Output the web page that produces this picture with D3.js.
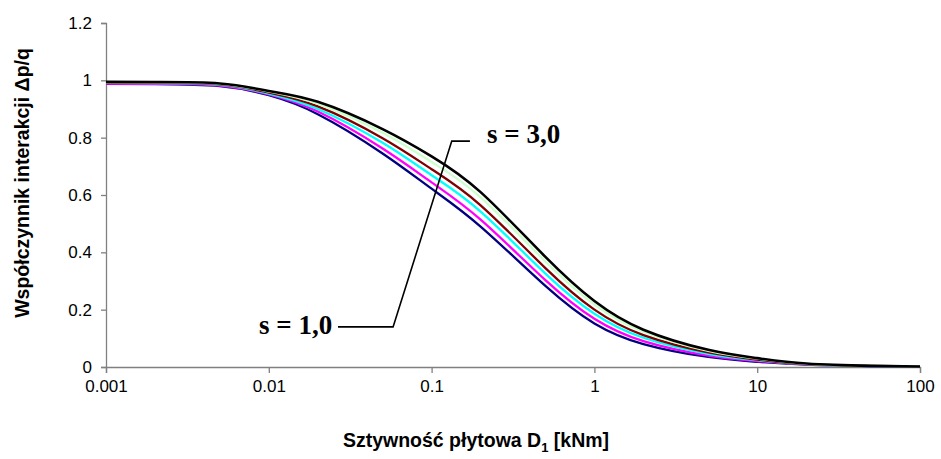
<!DOCTYPE html>
<html>
<head>
<meta charset="utf-8">
<script src="https://cdn.jsdelivr.net/npm/d3@7"></script>
<style>
  body { margin: 0; background: #fff; }
  svg { display: block; }
  .tick text { font-family: "Liberation Sans", Arial, sans-serif; font-size: 17px; fill: #000; }
  .axis-title { font-family: "Liberation Sans", Arial, sans-serif; font-size: 19.5px; font-weight: bold; }
  .note { font-family: "Liberation Serif", "Times New Roman", serif; font-size: 27px; font-weight: bold; }
</style>
</head>
<body>
<div id="chart"></div>
<script>
// plate stiffness D1 [kNm]
var stiffness = [0.001, 0.002, 0.005, 0.01, 0.02, 0.05, 0.1, 0.2, 0.5, 1, 2, 5, 10, 20, 50, 100];

// interaction coefficient dp/q, one array per spacing s
var s10 = [0.988, 0.987, 0.980, 0.948, 0.882, 0.745, 0.622, 0.490, 0.283, 0.152, 0.080, 0.035, 0.018, 0.008, 0.003, 0.001];
var s14 = [0.989, 0.988, 0.982, 0.951, 0.891, 0.762, 0.644, 0.514, 0.303, 0.168, 0.090, 0.040, 0.021, 0.009, 0.003, 0.001];
var s18 = [0.991, 0.990, 0.984, 0.954, 0.900, 0.782, 0.669, 0.542, 0.326, 0.186, 0.102, 0.046, 0.024, 0.010, 0.003, 0.001];
var s22 = [0.992, 0.991, 0.986, 0.957, 0.909, 0.798, 0.690, 0.564, 0.345, 0.200, 0.111, 0.051, 0.026, 0.010, 0.004, 0.002];
var s26 = [0.994, 0.993, 0.988, 0.961, 0.918, 0.817, 0.715, 0.592, 0.368, 0.218, 0.123, 0.056, 0.029, 0.011, 0.004, 0.002];
var s30 = [0.995, 0.994, 0.989, 0.963, 0.925, 0.830, 0.735, 0.610, 0.384, 0.230, 0.130, 0.060, 0.031, 0.012, 0.004, 0.002];

var xTicks = [0.001, 0.01, 0.1, 1, 10, 100];
var xTickLabels = ['0.001', '0.01', '0.1', '1', '10', '100'];
var yTicks = [0, 0.2, 0.4, 0.6, 0.8, 1, 1.2];
var yTickLabels = ['0', '0.2', '0.4', '0.6', '0.8', '1', '1.2'];

var series = [
    {name: 's = 1,0', values: s10, colour: '#000080'},
    {name: 's = 1,4', values: s14, colour: '#ff00ff'},
    {name: 's = 1,8', values: s18, colour: '#00ffff'},
    {name: 's = 2,2', values: s22, colour: '#800000'},
    {name: 's = 2,6', values: s26, colour: '#ccffcc'},
    {name: 's = 3,0', values: s30, colour: '#000000'}
];

var width = 941, height = 459;
var margin = {top: 23, right: 21, bottom: 92, left: 106};

var svg = d3.select('#chart')
    .append('svg')
    .attr('width', width)
    .attr('height', height);

var x = d3.scaleLog()
    .domain([0.001, 100])
    .range([margin.left, width - margin.right]);

var y = d3.scaleLinear()
    .domain([0, 1.2])
    .range([height - margin.bottom, margin.top]);

// axes
var xAxis = d3.axisBottom(x)
    .tickValues(xTicks)
    .tickSize(6)
    .tickPadding(7)
    .tickFormat(function(d, i) { return xTickLabels[i]; });

var yAxis = d3.axisLeft(y)
    .tickValues(yTicks)
    .tickSize(5)
    .tickPadding(9)
    .tickFormat(function(d, i) { return yTickLabels[i]; });

var gx = svg.append('g')
    .attr('transform', 'translate(0,' + y(0) + ')')
    .call(xAxis);

var gy = svg.append('g')
    .attr('transform', 'translate(' + x(0.001) + ',0)')
    .call(yAxis);

[gx, gy].forEach(function(g) {
    g.select('.domain').attr('stroke', '#808080').attr('stroke-width', 1.3);
    g.selectAll('.tick line').attr('stroke', '#808080').attr('stroke-width', 1.3);
});

// curves
var line = d3.line()
    .x(function(d, i) { return x(stiffness[i]); })
    .y(function(d) { return y(d); })
    .curve(d3.curveNatural);

svg.append('g')
    .selectAll('path')
    .data(series)
    .enter()
    .append('path')
    .attr('d', function(d) { return line(d.values); })
    .attr('fill', 'none')
    .attr('stroke', function(d) { return d.colour; })
    .attr('stroke-width', function(d) { return d.colour === '#000000' ? 2.6 : 2.3; });

// leader lines for the s labels (data coordinates)
var leader = [[0.0266, 0.14], [0.058, 0.14], [0.133, 0.788], [0.172, 0.788]];

svg.append('path')
    .attr('d', d3.line()
        .x(function(d) { return x(d[0]); })
        .y(function(d) { return y(d[1]); })(leader))
    .attr('fill', 'none')
    .attr('stroke', '#000')
    .attr('stroke-width', 1.6);

svg.append('text')
    .attr('class', 'note')
    .attr('x', x(0.219))
    .attr('y', y(0.782))
    .text('s = 3,0');

svg.append('text')
    .attr('class', 'note')
    .attr('text-anchor', 'end')
    .attr('x', x(0.0245))
    .attr('y', y(0.115))
    .text('s = 1,0');

// axis titles
var xTitle = svg.append('text')
    .attr('class', 'axis-title')
    .attr('text-anchor', 'middle')
    .attr('x', 476)
    .attr('y', 447);

xTitle.append('tspan').text('Sztywność płytowa D');
xTitle.append('tspan')
    .attr('font-size', '13px')
    .attr('dy', 5)
    .text('1');
xTitle.append('tspan')
    .attr('dy', -5)
    .text(' [kNm]');

svg.append('text')
    .attr('class', 'axis-title')
    .attr('text-anchor', 'middle')
    .attr('font-size', '20px')
    .attr('transform', 'translate(29,183) rotate(-90)')
    .text('Współczynnik interakcji Δp/q');
</script>
</body>
</html>
